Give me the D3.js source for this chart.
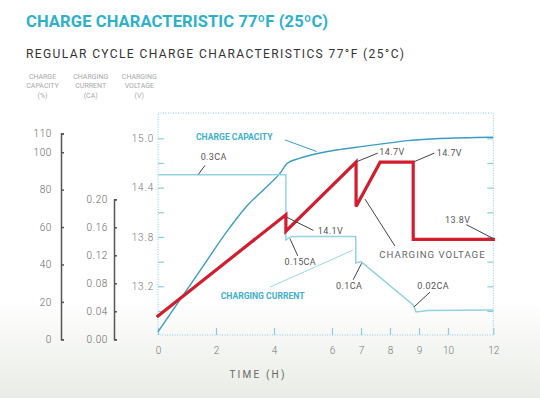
<!DOCTYPE html>
<html>
<head>
<meta charset="utf-8">
<script src="https://cdn.jsdelivr.net/npm/d3@7"></script>
<style>
  body { margin: 0; background: #fff; }
  #chart { width: 540px; height: 398px; }
  text { font-family: Roboto, "DejaVu Sans", sans-serif; }
</style>
</head>
<body>
<div id="chart"></div>
<script>
// data (time in hours)
const timeTicks = [0, 2, 4, 6, 7, 8, 9, 10, 12];
const capacityTicks = [0, 20, 40, 60, 80, 100, 110];
const currentTicks = [0, 0.04, 0.08, 0.12, 0.16, 0.20];
const voltageTicks = [12.9, 13.2, 13.5, 13.8, 14.1, 14.4, 14.7, 15.0];
const voltageLabels = [13.2, 13.8, 14.4, 15.0];

// charge capacity (%)
const capacityTime  = [0, 1.45, 2.48, 3.08, 3.63, 4.21, 4.46, 4.9, 5.5, 6.3, 7, 8, 8.6, 9.7, 12];
const capacityValue = [4, 36.7, 59.8, 71.5, 79.8, 88.8, 94.1, 96.8, 99.3, 101.5, 103, 105, 106.2, 107.3, 108];

// charging current (CA, as placed against the current axis)
const currentTime  = [0, 4.41, 4.41, 4.6, 6.82, 6.82, 7.0, 8.8, 8.9, 9.3, 12];
const currentValue = [0.235, 0.235, 0.142, 0.147, 0.147, 0.109, 0.111, 0.049, 0.039, 0.041, 0.042];

// charging voltage (V)
const voltageTime  = [0, 4.41, 4.41, 6.83, 6.83, 7.66, 8.8, 8.8, 12];
const voltageValue = [12.84, 14.07, 13.87, 14.71, 14.17, 14.71, 14.71, 13.77, 13.77];

// annotations: label, text position (h, V), leader from/to (h, V)
const notes = [
  { text: "CHARGE CAPACITY", kind: "key", color: "#3fb0cb", at: [1.31, 15.01], from: [4.38, 14.98], to: [5.47, 14.84], line: "#3a9cc4" },
  { text: "CHARGING CURRENT", kind: "key", color: "#3fb0cb", at: [2.16, 13.08], from: [3.86, 13.19], to: [6.72, 13.64], line: "#9dd5e6" },
  { text: "0.3CA", at: [1.47, 14.78], from: [1.62, 14.67], to: [1.39, 14.56] },
  { text: "14.1V", at: [5.51, 13.88], from: [4.44, 14.04], to: [5.36, 13.88] },
  { text: "0.15CA", at: [4.36, 13.50], from: [4.82, 13.57], to: [4.55, 13.78] },
  { text: "0.1CA", at: [6.14, 13.20], from: [6.73, 13.28], to: [7.02, 13.48] },
  { text: "14.7V", at: [7.63, 14.83], from: [6.85, 14.715], to: [7.58, 14.82] },
  { text: "14.7V", at: [9.61, 14.82], from: [8.83, 14.715], to: [9.53, 14.82] },
  { text: "13.8V", at: [9.90, 14.01], from: [10.81, 13.95], to: [12.0, 13.78] },
  { text: "CHARGING VOLTAGE", kind: "wide", at: [7.63, 13.59], from: [7.14, 14.26], to: [8.17, 13.69] },
  { text: "0.02CA", at: [8.94, 13.21], from: [9.38, 13.13], to: [8.83, 12.95] }
];

const svg = d3.select("#chart").append("svg")
  .attr("width", 540)
  .attr("height", 398);

// faint grass-like fade at the bottom
const defs = svg.append("defs");
const grad = defs.append("linearGradient")
  .attr("id", "fade").attr("x1", 0).attr("y1", 0).attr("x2", 0).attr("y2", 1);
grad.append("stop").attr("offset", "0%").attr("stop-color", "#ffffff");
grad.append("stop").attr("offset", "100%").attr("stop-color", "#e9ece6");
svg.append("rect").attr("x", 0).attr("y", 300).attr("width", 540).attr("height", 98)
  .attr("fill", "url(#fade)");

// scales (time axis is squeezed after 10 h, like the original)
const x = d3.scaleLinear().domain([0, 10, 12]).range([158, 448, 493.3]);
const yV = d3.scaleLinear().domain([13.2, 15.0]).range([286.3, 138.3]);
const yCap = d3.scaleLinear().domain([0, 110]).range([339.3, 133.5]);
const yCur = d3.scaleLinear().domain([0, 0.2]).range([339.3, 199.3]);

const plotTop = 113, plotBottom = 335;

// titles
svg.append("text")
  .attr("x", 26).attr("y", 26.7)
  .attr("font-size", 16.5).attr("font-weight", 700)
  .attr("fill", "#2db1ca")
  .attr("textLength", 302).attr("lengthAdjust", "spacing")
  .text("CHARGE CHARACTERISTIC 77ºF (25ºC)");

svg.append("text")
  .attr("x", 26).attr("y", 58.3)
  .attr("font-size", 12).attr("fill", "#333")
  .attr("textLength", 378).attr("lengthAdjust", "spacing")
  .text("REGULAR CYCLE CHARGE CHARACTERISTICS 77°F (25°C)");

// axis headers
const headers = [
  { cx: 42.5, lines: ["CHARGE", "CAPACITY", "(%)"] },
  { cx: 90.7, lines: ["CHARGING", "CURRENT", "(CA)"] },
  { cx: 139.3, lines: ["CHARGING", "VOLTAGE", "(V)"] }
];
headers.forEach(h => {
  const t = svg.append("text")
    .attr("text-anchor", "middle")
    .attr("font-size", 7).attr("fill", "#a8a8a8");
  h.lines.forEach((s, i) => {
    t.append("tspan").attr("x", h.cx).attr("y", 78.5 + i * 9.5).text(s);
  });
});

// dotted plot frame
svg.append("rect")
  .attr("x", x(0)).attr("y", plotTop)
  .attr("width", x(12) - x(0)).attr("height", plotBottom - plotTop)
  .attr("fill", "none").attr("stroke", "#8ccbe0")
  .attr("stroke-width", 1).attr("stroke-dasharray", "1,1.5");

// capacity axis
const capAxis = svg.append("g")
  .attr("transform", "translate(61,0)")
  .call(d3.axisLeft(yCap).tickValues(capacityTicks)
    .tickSizeInner(-3).tickSizeOuter(-3).tickPadding(9));
capAxis.select(".domain").attr("stroke", "#555").attr("stroke-width", 1.5);
capAxis.selectAll(".tick line").attr("stroke", "#555").attr("stroke-width", 1.5);
capAxis.selectAll("text").attr("font-size", 10).attr("fill", "#666")
  .attr("font-family", "Roboto").attr("font-weight", 300).attr("letter-spacing", 0.6);

// current axis
const curAxis = svg.append("g")
  .attr("transform", "translate(114,0)")
  .call(d3.axisLeft(yCur).tickValues(currentTicks).tickFormat(d3.format(".2f"))
    .tickSizeInner(-3).tickSizeOuter(-3).tickPadding(6));
curAxis.select(".domain").attr("stroke", "#555").attr("stroke-width", 1.5);
curAxis.selectAll(".tick line").attr("stroke", "#555").attr("stroke-width", 1.5);
curAxis.selectAll("text").attr("font-size", 10).attr("fill", "#666")
  .attr("font-family", "Roboto").attr("font-weight", 300).attr("letter-spacing", 0.6);

// voltage axis (left edge of plot) and mirrored ticks on the right
const vLeft = svg.append("g")
  .attr("transform", `translate(${x(0)},0)`)
  .call(d3.axisLeft(yV).tickValues(voltageTicks)
    .tickFormat(d => voltageLabels.some(v => Math.abs(v - d) < 1e-6) ? d3.format(".1f")(d) : "")
    .tickSizeInner(-6).tickSizeOuter(0).tickPadding(4));
vLeft.select(".domain").remove();
vLeft.selectAll(".tick line").attr("stroke", "#8ccbe0").attr("stroke-width", 1.2);
vLeft.selectAll("text").attr("font-size", 10).attr("fill", "#777")
  .attr("font-family", "Roboto").attr("font-weight", 300).attr("letter-spacing", 0.8);

const vRight = svg.append("g")
  .attr("transform", `translate(${x(12)},0)`)
  .call(d3.axisRight(yV).tickValues(voltageTicks).tickFormat("")
    .tickSizeInner(-6).tickSizeOuter(0));
vRight.select(".domain").remove();
vRight.selectAll(".tick line").attr("stroke", "#8ccbe0").attr("stroke-width", 1.2);

// time axis
const xAxis = svg.append("g")
  .attr("transform", `translate(0,${plotBottom})`)
  .call(d3.axisBottom(x).tickValues(timeTicks)
    .tickSizeInner(-7).tickSizeOuter(0).tickPadding(12));
xAxis.select(".domain").remove();
xAxis.selectAll(".tick line").attr("stroke", "#8ccbe0").attr("stroke-width", 1.2);
xAxis.selectAll("text").attr("font-size", 10).attr("fill", "#777")
  .attr("font-family", "Roboto").attr("font-weight", 300);

svg.append("text")
  .attr("x", 258).attr("y", 377.5)
  .attr("text-anchor", "middle")
  .attr("font-size", 10).attr("fill", "#666").attr("letter-spacing", 2.2)
  .text("TIME (H)");

// curves
const capLine = d3.line().x(d => x(d[0])).y(d => yCap(d[1])).curve(d3.curveMonotoneX);
svg.append("path")
  .datum(d3.zip(capacityTime, capacityValue))
  .attr("d", capLine)
  .attr("fill", "none").attr("stroke", "#3a9cc4").attr("stroke-width", 1.4);

const curLine = d3.line().x(d => x(d[0])).y(d => yCur(d[1]));
svg.append("path")
  .datum(d3.zip(currentTime, currentValue))
  .attr("d", curLine)
  .attr("fill", "none").attr("stroke", "#93d1e4").attr("stroke-width", 1.5);

const volLine = d3.line().x(d => x(d[0])).y(d => yV(d[1]));
svg.append("path")
  .datum(d3.zip(voltageTime, voltageValue))
  .attr("d", volLine)
  .attr("fill", "none").attr("stroke", "#d11d2d").attr("stroke-width", 3.2)
  .attr("stroke-linejoin", "miter").attr("stroke-linecap", "square");

// annotations
const ann = svg.append("g");
notes.forEach(n => {
  ann.append("line")
    .attr("x1", x(n.from[0])).attr("y1", yV(n.from[1]))
    .attr("x2", x(n.to[0])).attr("y2", yV(n.to[1]))
    .attr("stroke", n.line || "#444").attr("stroke-width", 1);
  const t = ann.append("text")
    .attr("x", x(n.at[0])).attr("y", yV(n.at[1]))
    .attr("dy", "0.35em")
    .text(n.text);
  if (n.kind === "key") {
    t.attr("font-size", 8.6).attr("font-weight", 700).attr("fill", n.color);
  } else if (n.kind === "wide") {
    t.attr("font-size", 9.6).attr("fill", "#666").attr("letter-spacing", 1);
  } else {
    t.attr("font-size", 9).attr("fill", "#555").attr("letter-spacing", 0.4);
  }
});
</script>
</body>
</html>
